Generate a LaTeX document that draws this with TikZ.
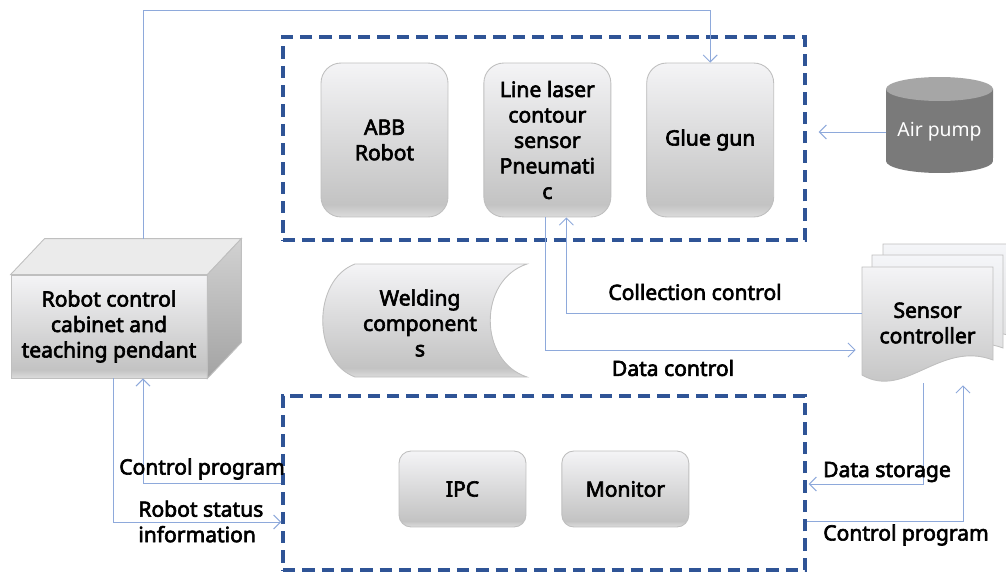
\documentclass[tikz,border=0pt]{standalone}
\usepackage{fontspec}
\newfontfamily\boxfont{Noto Sans}[FakeBold=3]
\newfontfamily\pumpfont{Noto Sans}
\usetikzlibrary{positioning,calc,arrows.meta}
\tikzset{>={Straight Barb[length=4pt,width=8pt]}}
\definecolor{linkblue}{HTML}{8EA9DB}
\definecolor{groupblue}{HTML}{2F5496}
\definecolor{boxline}{HTML}{BFBFBF}
\definecolor{shadeTop}{HTML}{F4F4F6}
\definecolor{shadeMid}{HTML}{C3C3C3}
\definecolor{shadeLow}{HTML}{DCDCDC}
\definecolor{pageTop}{HTML}{F4F5F8}
\definecolor{pageLow}{HTML}{DADADA}
\definecolor{pumpbody}{HTML}{7A7A7A}
\definecolor{pumptop}{HTML}{A6A6A6}
\definecolor{sidelight}{HTML}{D2D2D2}
\definecolor{sidedark}{HTML}{A3A3A3}
\definecolor{topface}{HTML}{EBEBEB}
\pgfdeclareverticalshading{boxshade}{100bp}{color(0bp)=(shadeLow); color(25bp)=(shadeLow); color(29bp)=(shadeMid); color(75bp)=(shadeTop); color(100bp)=(shadeTop)}
\pgfdeclareverticalshading{pageshade}{100bp}{color(0bp)=(pageLow); color(25bp)=(pageLow); color(75bp)=(pageTop); color(100bp)=(pageTop)}

\begin{document}
\begin{tikzpicture}[x=0.02cm,y=-0.02cm,
    unit/.style={draw=boxline,line width=0.5pt,rounded corners=0.4cm,shade,shading=boxshade,
      align=center,font=\boxfont\fontsize{12}{14.5}\selectfont,
      minimum width=2.54cm,minimum height=3.08cm,inner sep=1pt},
    small unit/.style={unit,rounded corners=0.24cm,minimum height=1.52cm},
    group/.style={draw=groupblue,line width=2pt,dash pattern=on 7pt off 4pt,minimum width=10.44cm},
    link/.style={draw=linkblue,line width=0.55pt},
    page/.style={draw=boxline,line width=0.5pt,shade,shading=pageshade},
    tag/.style={font=\boxfont\fontsize{12}{14.5}\selectfont,align=center,inner sep=0pt}]
  \path[use as bounding box] (0,0) rectangle (1006,574);

  % dashed groups
  \node[group,minimum height=4.06cm] (upper) at (544,138.5) {};
  \node[group,minimum height=3.48cm] (lower) at (544,483) {};

  % units in the work cell
  \node[unit] (abb) at (384.5,140) {ABB\\Robot};
  \node[unit,right=0.7cm of abb] (laser) {Line laser\\contour\\sensor\\Pneumati\\c};
  \node[unit,right=0.7cm of laser] (glue) {Glue gun};

  % computer side
  \node[small unit] (ipc) at (462.5,489) {IPC};
  \node[small unit,right=0.7cm of ipc] (monitor) {Monitor};

  % control cabinet as a box
  \node[draw=boxline,line width=0.5pt,shade,shading=boxshade,minimum width=3.92cm,minimum height=2.06cm,
    align=center,font=\boxfont\fontsize{12}{14.5}\selectfont] (cab) at (109,326.5)
    {Robot control\\cabinet and\\teaching pendant};
  \filldraw[fill=topface,draw=boxline,line width=0.5pt] (cab.north west) -- ++(34,-36)
    -- ($(cab.north east)+(34,-36)$) -- (cab.north east) -- cycle;
  \draw[draw=boxline,line width=0.5pt,top color=sidelight,bottom color=sidedark] (cab.north east)
    -- ++(34,-36) -- ($(cab.south east)+(34,-36)$) -- (cab.south east) -- cycle;
  \coordinate (cabtop) at ($(cab.north)+(34,-36)$);
  \coordinate (ceil) at (0,10);

  % air pump
  \fill[pumpbody] (886,89) -- (886,161) arc[start angle=180,end angle=360,x radius=1.07cm,y radius=0.24cm]
    -- (993,89) -- cycle;
  \fill[pumptop] (939.5,89) ellipse[x radius=1.07cm,y radius=0.24cm];
  \node[font=\pumpfont\fontsize{11}{13}\selectfont,text=white,minimum width=2.14cm,inner sep=0pt] (pump)
    at (939.5,132) {Air pump};

  % welding parts
  \draw[draw=boxline,line width=0.5pt,shade,shading=boxshade] (355,264) -- (527,264)
    .. controls (478,280) and (478,361) .. (527,377) -- (355,377)
    .. controls (312,361) and (312,280) .. (355,264) -- cycle;
  \node[tag] (weld) at (420,323) {Welding\\component\\s};

  % sensor controller pages
  \begin{scope}
    \clip (0,0) rectangle (1006,574);
    \draw[page,shift={(21,-23)}] (862,267) -- (993,267) -- (993,360)
      .. controls (940,340) and (905,400) .. (862,375) -- cycle;
    \draw[page,shift={(10,-12)}] (862,267) -- (993,267) -- (993,360)
      .. controls (940,340) and (905,400) .. (862,375) -- cycle;
  \end{scope}
  \draw[draw=boxline,line width=0.5pt,shade,shading=boxshade] (862,267) -- (993,267) -- (993,360)
    .. controls (940,340) and (905,400) .. (862,375) -- cycle;
  \node[tag,minimum width=2.62cm,minimum height=2.24cm] (sens) at (927.5,323) {Sensor\\controller};

  % connections
  \draw[link,->] (cabtop) -- (cabtop |- ceil) -| (glue.north);
  \draw[link,->] (pump.west) -- ($(upper.east |- pump.west)+(12,0)$);
  \draw[link,->] ($(sens.west)+(0,-10)$) -| ($(laser.south)+(19,0)$);
  \draw[link,->] ($(laser.south)+(-2,0)$) |- ($(sens.west)+(-6,27)$);
  \draw[link,->] ($(sens.south)+(-4.5,4)$) |- ($(lower.east)+(2,1)$);
  \draw[link,->] ($(lower.east)+(0,38)$) -| ($(sens.south)+(35.5,6)$);
  \draw[link,->] ($(cab.south)+(4,0)$) |- ($(lower.west)+(0,39)$);
  \draw[link,->] (lower.west) -| ($(cab.south)+(34,0)$);

  % labels
  \node[tag] (collect) at (695,292) {Collection control};
  \node[tag] (datactl) at (673,368) {Data control};
  \node[tag] (store) at (887,472) {Data storage};
  \node[tag] (progright) at (906,535) {Control program};
  \node[tag] (progleft) at (202,469) {Control program};
  \node[tag,align=left,anchor=west] (status) at (138,521.5) {Robot status\\information};
\end{tikzpicture}
\end{document}
